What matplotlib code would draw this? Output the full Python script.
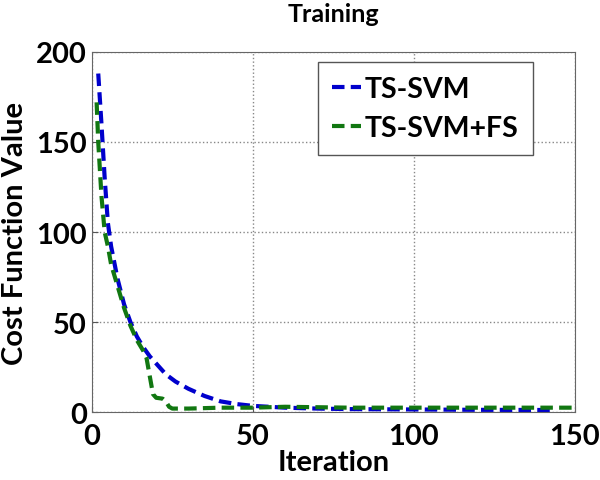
import matplotlib
matplotlib.use("Agg")
import matplotlib.pyplot as plt

blue_iter = [2, 3, 4, 5, 6, 8, 10, 12, 14, 16, 18, 20, 23, 26, 30, 35, 40, 45, 50, 55, 60, 70, 80, 100, 120, 143]
blue_vals = [188, 160, 130, 105, 92, 74, 60, 50, 42, 36, 31, 27, 21, 17, 13, 9, 6, 4.5, 3.5, 3, 2.5, 2, 1.7, 1.5, 1.3, 1.2]

green_iter = [1.5, 2, 3, 4, 5, 6, 8, 10, 12, 14, 16, 17, 18, 19, 20, 22, 23, 24, 25, 30, 40, 50, 60, 80, 100, 120, 150]
green_vals = [172, 150, 120, 100, 92, 82, 70, 58, 48, 40, 34, 30, 20, 10, 8, 7.5, 6, 3, 2, 2, 2.5, 2.5, 3, 2.5, 2.5, 2.5, 2.5]

xticks = [0, 50, 100, 150]
yticks = [0, 50, 100, 150, 200]

plt.rcParams['font.family'] = ['Lato', 'DejaVu Sans']
fig = plt.figure(figsize=(6, 4.81), dpi=100)
ax = fig.add_axes([0.153, 0.141, 0.805, 0.749])

ax.plot(blue_iter, blue_vals, color='#0000cc', lw=3, ls=(0, (3, 1.5)), label='TS-SVM')
ax.plot(green_iter, green_vals, color='#117711', lw=3, ls=(0, (3, 1.5)), label='TS-SVM+FS')

ax.set_xlim(0, 150)
ax.set_ylim(0, 200)
ax.set_xticks(xticks)
ax.set_yticks(yticks)
ax.tick_params(labelsize=21, direction='in', length=4, color='#555555')
ax.tick_params(axis='x', pad=8)
for lab in ax.get_xticklabels() + ax.get_yticklabels():
    lab.set_fontweight('bold')
ax.grid(True, ls=':', color='#888888', lw=1)
for s in ax.spines.values():
    s.set_color('#666666')

ax.set_xlabel('Iteration', fontsize=21, fontweight='bold', labelpad=0)
ax.set_ylabel('Cost Function Value', fontsize=21, fontweight='bold', labelpad=6)
ax.set_title('Training', fontsize=18, fontweight='bold', pad=22)

leg = ax.legend(loc='upper right', bbox_to_anchor=(0.913, 0.972),
                prop={'weight': 'bold', 'size': 20.5}, handlelength=1.0, handletextpad=0.15,
                fancybox=False, edgecolor='#555555', framealpha=1, borderpad=0.5,
                labelspacing=0.45, borderaxespad=0)
leg.get_frame().set_linewidth(1)

fig.savefig('out.png', dpi=100)
